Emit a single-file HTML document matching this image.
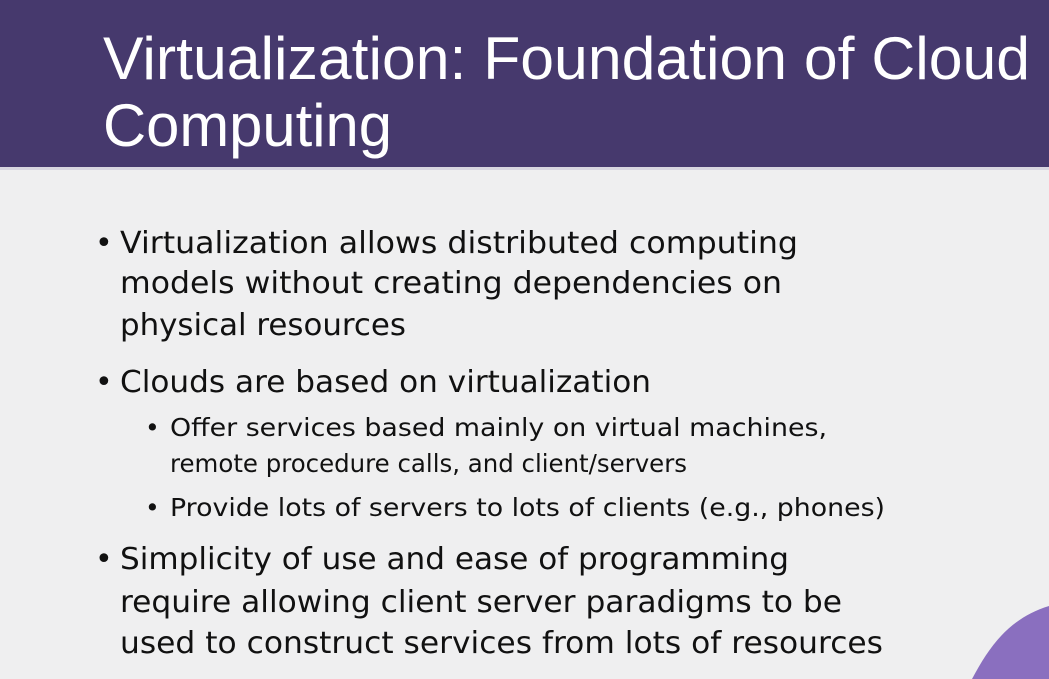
<!DOCTYPE html>
<html><head><meta charset="utf-8"><style>
html,body{margin:0;padding:0;width:1049px;height:679px;overflow:hidden;background:#efeff0}
svg{display:block}
</style></head><body>
<svg width="1049" height="679" viewBox="0 0 1049 679" xmlns="http://www.w3.org/2000/svg">
<rect width="1049" height="679" fill="#efeff0"/>
<rect width="1049" height="167" fill="#46396d"/>
<rect y="167" width="1049" height="3" fill="#d8d6e0"/>
<g font-family="Liberation Sans, sans-serif" fill="#ffffff" font-size="60">
<text x="103" y="79" textLength="927" lengthAdjust="spacingAndGlyphs">Virtualization: Foundation of Cloud</text>
<text x="103" y="146" textLength="289" lengthAdjust="spacingAndGlyphs">Computing</text>
</g>
<g font-family="DejaVu Sans, Liberation Sans, sans-serif" fill="#111" font-size="30">
<text x="95" y="253">•</text>
<text x="120" y="253" textLength="678" lengthAdjust="spacingAndGlyphs">Virtualization allows distributed computing</text>
<text x="120" y="293" textLength="662" lengthAdjust="spacingAndGlyphs">models without creating dependencies on</text>
<text x="120" y="335" textLength="286" lengthAdjust="spacingAndGlyphs">physical resources</text>
<text x="95" y="392">•</text>
<text x="120" y="392" textLength="531" lengthAdjust="spacingAndGlyphs">Clouds are based on virtualization</text>
<text x="95" y="569">•</text>
<text x="120" y="569" textLength="669" lengthAdjust="spacingAndGlyphs">Simplicity of use and ease of programming</text>
<text x="120" y="612" textLength="722" lengthAdjust="spacingAndGlyphs">require allowing client server paradigms to be</text>
<text x="120" y="653" textLength="763" lengthAdjust="spacingAndGlyphs">used to construct services from lots of resources</text>
</g>
<g font-family="DejaVu Sans, Liberation Sans, sans-serif" fill="#111" font-size="25">
<text x="145" y="436">•</text>
<text x="170" y="436" textLength="657" lengthAdjust="spacingAndGlyphs">Offer services based mainly on virtual machines,</text>
<text x="170" y="472" textLength="517" lengthAdjust="spacingAndGlyphs">remote procedure calls, and client/servers</text>
<text x="145" y="516">•</text>
<text x="170" y="516" textLength="715" lengthAdjust="spacingAndGlyphs">Provide lots of servers to lots of clients (e.g., phones)</text>
</g>
<path d="M972,679 C990,645 1010,618 1049,606 L1049,679 Z" fill="#8a6fbf"/>
</svg>
</body></html>
